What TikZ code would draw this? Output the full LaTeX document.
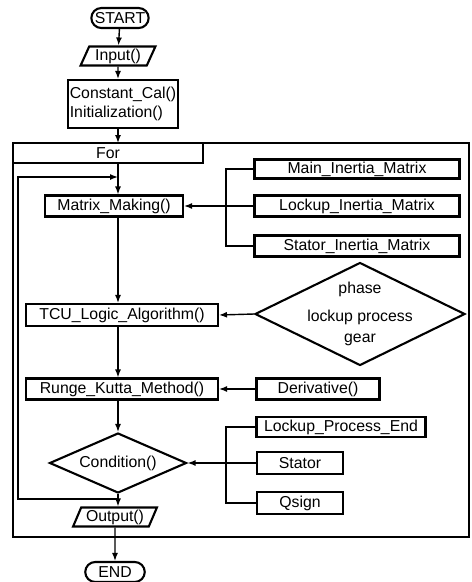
\documentclass[tikz,border=0pt]{standalone}
\usepackage{fontspec}
\setmainfont{Liberation Sans}
\usetikzlibrary{arrows.meta,shapes,positioning,calc}
\tikzset{
    box/.style={draw, rectangle, line width=1.2pt, minimum height=0.42cm, inner sep=1pt},
    term/.style={draw, rounded rectangle, line width=1.2pt, minimum height=0.4cm, inner sep=1pt},
    io/.style={draw, trapezium, trapezium left angle=68, trapezium right angle=112, trapezium stretches=true, line width=1.2pt, minimum height=0.38cm, inner sep=1pt},
    decision/.style={draw, diamond, line width=1.2pt, inner sep=0pt},
    flow/.style={-{Latex[length=1.6mm, width=1.2mm]}, line width=0.8pt},
    link/.style={line width=0.8pt}
}

\begin{document}
\begin{tikzpicture}[x=0.02cm, y=-0.02cm, font=\fontsize{9}{11}\selectfont]
\useasboundingbox (0,0) rectangle (472,582);
% start and setup
\node[term, minimum width=1.1cm] (Start) at (120,18) {START};
\node[io, minimum width=1.5cm] (Input) at (118,56) {Input()};
\node[box, align=left, minimum width=2.2cm, minimum height=0.96cm] (Init) at (123,104) {Constant\_Cal()\\Initialization()};
% for loop frame
\draw[line width=1.2pt] (13,143) rectangle (469,537);
\node[box, minimum width=3.8cm, minimum height=0.4cm] (For) at (108,153) {For};
\coordinate (Ax) at (118,143);
\coordinate (LoopT) at (18,177);
% main column inside the loop
\node[box, minimum width=2.76cm] (Matrix) at (114,206) {Matrix\_Making()};
\node[box, minimum width=3.84cm, minimum height=0.44cm] (TCU) at (122,315) {TCU\_Logic\_Algorithm()};
\node[box, minimum width=3.84cm] (Runge) at (122,389) {Runge\_Kutta\_Method()};
\node[decision, minimum width=2.74cm, minimum height=1.2cm, aspect=2.3] (Cond) at (118,463) {Condition()};
\node[io, minimum width=1.68cm] (Output) at (115,517) {Output()};
\node[term, minimum width=1.26cm] (End) at (115,572) {END};
% right column
\node[box, minimum width=4.1cm, minimum height=0.38cm] (MainIM) at (357,169) {Main\_Inertia\_Matrix};
\node[box, minimum width=4.1cm] (LockIM) at (357,206) {Lockup\_Inertia\_Matrix};
\node[box, minimum width=4.1cm] (StatIM) at (357,246) {Stator\_Inertia\_Matrix};
\node[decision, minimum width=4.2cm, minimum height=2.06cm, inner sep=-20pt, align=center] (Phase) at (360,314) {phase\\[5pt]lockup process\\[1pt]gear};
\node[box, minimum width=2.46cm] (Deriv) at (318,389) {Derivative()};
\node[box, minimum width=3.38cm, minimum height=0.4cm] (LPE) at (341,427) {Lockup\_Process\_End};
\node[box, minimum width=1.72cm, minimum height=0.44cm] (Stator) at (300,463) {Stator};
\node[box, minimum width=1.72cm, minimum height=0.44cm] (Qsign) at (300,503) {Qsign};
\coordinate (B1) at (226,206);
\coordinate (B2) at (226,463);
% connectors
\draw[flow] (Start) -- (Input);
\draw[flow] (Input) -- (Input |- Init.north);
\draw[flow] (Init.south -| Ax) -- (Ax);
\draw[flow] (Ax |- For.south) -- (Ax |- Matrix.north);
\draw[flow] (Ax |- Matrix.south) -- (Ax |- TCU.north);
\draw[flow] (Ax |- TCU.south) -- (Ax |- Runge.north);
\draw[flow] (Ax |- Runge.south) -- (Cond.north);
\draw[flow] (Cond.south) -- (Cond.south |- Output.north);
\draw[flow] (Cond.south) ++(0,5) -| (LoopT) -- (LoopT -| Ax);
\draw[flow] (Output.south) -- (End.north);
\draw[link] (MainIM.west) -| (B1) |- (StatIM.west);
\draw[flow] (LockIM.west) -- (Matrix.east);
\draw[flow] (Phase.west) -- (TCU.east);
\draw[flow] (Deriv.west) -- (Runge.east);
\draw[link] (LPE.west) -| (B2) |- (Qsign.west);
\draw[flow] (Stator.west) -- (Cond.east);
\end{tikzpicture}
\end{document}
